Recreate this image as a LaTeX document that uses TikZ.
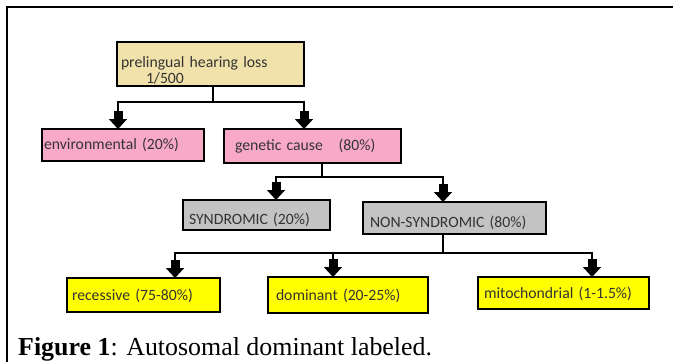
\documentclass[tikz,border=0pt]{standalone}
\usepackage{fontspec}
\newfontfamily\boxfont{Carlito}
\newfontfamily\capfont{Liberation Serif}
\usetikzlibrary{positioning,calc,arrows.meta}
\definecolor{boxtan}{HTML}{F0E2AA}
\definecolor{boxpink}{HTML}{F9A9C8}
\definecolor{boxgray}{HTML}{C3C3C3}
\definecolor{boxyellow}{HTML}{FFFF00}
\definecolor{labeltext}{HTML}{333333}

\begin{document}
\begin{tikzpicture}[x=1pt,y=-1pt]
  \useasboundingbox (0,0) rectangle (673,362);
  % frame
  \draw [line width=1.3pt] (7,362) |- (673,7);
  \begin{scope}[
    every node/.style={
      rectangle,
      draw,
      line width=2pt,
      outer sep=0pt,
      inner ysep=0pt,
      align=left,
      text=labeltext,
      font=\boxfont\fontsize{15.7}{16}\selectfont,
    },
    setanchor/.style={
      anchor=north west,
    },
    textdrop/.style={
      text height=#1,
      text depth=3pt,
    },
    ]
    % top
    \node [setanchor,fill=boxtan,text width=179pt,inner xsep=4pt,minimum height=44pt] (top) at (117,42)
    {\rule{0pt}{23pt}prelingual hearing loss\\\hspace*{25pt}1/500};

    % environmental
    \node [below=43pt of top.south west,xshift=-75pt,setanchor,fill=boxpink,
      text width=158pt,inner xsep=2pt,minimum height=32pt] (env)
    {environmental (20\%)};

    % genetic
    \node [right=20pt of env.north east,setanchor,fill=boxpink,
      text width=155pt,inner xsep=11pt,minimum height=34pt] (genetic)
    {genetic cause\ \ \ (80\%)};

    % syndromic
    \node [below=37pt of genetic.south west,xshift=-41pt,setanchor,fill=boxgray,
      text width=135pt,inner xsep=6pt,minimum height=30pt,textdrop=21.6pt] (synd)
    {SYNDROMIC (20\%)};

    % non-syndromic
    \node [right=33pt of synd.north east,yshift=-2pt,setanchor,fill=boxgray,
      text width=169pt,inner xsep=7pt,minimum height=32pt,textdrop=21.6pt] (nonsynd)
    {NON-SYNDROMIC (80\%)};

    % recessive
    \node [below=48pt of synd.south west,xshift=-116pt,setanchor,fill=boxyellow,
      text width=143pt,inner xsep=5pt,minimum height=34pt,textdrop=13.6pt] (recessive)
    {recessive (75-80\%)};

    % dominant
    \node [right=48pt of recessive.north east,yshift=1pt,setanchor,fill=boxyellow,
      text width=144pt,inner xsep=8pt,minimum height=36pt,textdrop=13.6pt] (dominant)
    {dominant (20-25\%)};

    % mitochondrial
    \node [right=50pt of dominant.north east,setanchor,fill=boxyellow,
      text width=159pt,inner xsep=6pt,minimum height=32pt,textdrop=13.6pt] (mito)
    {mitochondrial (1-1.5\%)};
  \end{scope}
  \begin{scope}[
    link/.style={
      line width=1.8pt,
    },
    myarrow/.style={
      link,
      -{Rectangle[width=9pt,length=8pt]Triangle[width=18pt,length=10pt]},
    },
    ]
    % Path top
    \draw [link] ([xshift=2.5pt]top.south) -- ++(0,16) coordinate (forkA);
    \draw [myarrow] (forkA) -| ([xshift=-5pt]env.north);
    \draw [myarrow] (forkA) -| ([xshift=-8.5pt]genetic.north);

    % Path genetic
    \draw [link] ([xshift=9.5pt]genetic.south) -- ++(0,14) coordinate (forkB);
    \draw [myarrow] (forkB) -| ([xshift=19.5pt]synd.north);
    \draw [myarrow] (forkB) -| ([xshift=-11.5pt]nonsynd.north);

    % Path non-syndromic
    \draw [link] ([xshift=-11.5pt]nonsynd.south) -- ++(0,19) coordinate (forkC);
    \draw [myarrow] (forkC) -| ([xshift=31.5pt]recessive.north);
    \draw [myarrow] (forkC) -| ([xshift=-15pt]dominant.north);
    \draw [myarrow] (forkC) -| ([xshift=28.5pt]mito.north);
  \end{scope}
  % caption
  \node [anchor=base west,inner sep=0pt,font=\capfont\fontsize{25.9}{30}\selectfont] (caption) at (18,355)
  {\textbf{Figure 1}: Autosomal dominant labeled.};
\end{tikzpicture}
\end{document}
